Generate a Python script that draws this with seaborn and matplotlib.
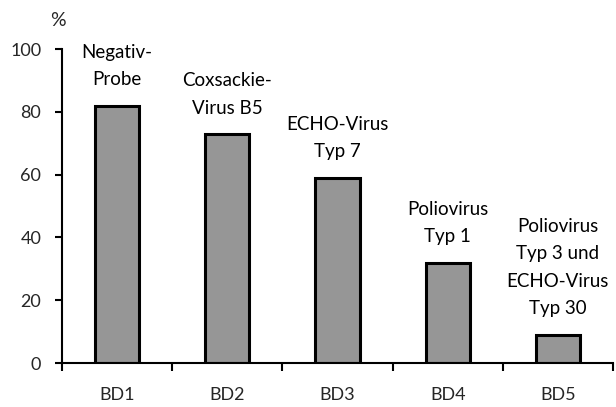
import matplotlib
matplotlib.use("Agg")
import matplotlib.pyplot as plt
import seaborn as sns

categories = ["BD1", "BD2", "BD3", "BD4", "BD5"]
values = [82, 73, 59, 32, 9]
bar_labels = [
    "Negativ-\nProbe",
    "Coxsackie-\nVirus B5",
    "ECHO-Virus\nTyp 7",
    "Poliovirus\nTyp 1",
    "Poliovirus\nTyp 3 und\nECHO-Virus\nTyp 30",
]
yticks = [0, 20, 40, 60, 80, 100]

sns.set_style("white")
plt.rcParams["font.family"] = ["Lato", "DejaVu Sans"]

fig = plt.figure(figsize=(6.16, 4.07), dpi=100)
ax = fig.add_axes([62 / 616, 1 - 363 / 407, (613 - 62) / 616, (363 - 49) / 407])

sns.barplot(x=categories, y=values, color="#969696", saturation=1,
            edgecolor="black", linewidth=2.2, width=0.4, ax=ax)

for i, (v, lab) in enumerate(zip(values, bar_labels)):
    ax.text(i, v + 5.5, lab, ha="center", va="bottom", fontsize=13.5,
            linespacing=1.75, color="black")

ax.set_xlim(-0.5, 4.5)
ax.set_ylim(0, 100)
ax.set_yticks(yticks)
ax.set_yticklabels([str(t) for t in yticks], fontsize=13)
ax.set_xticks(range(len(categories)))
ax.set_xticklabels(categories, fontsize=13)
ax.set_xticks([i - 0.5 for i in range(len(categories) + 1)], minor=True)
ax.tick_params(axis="x", which="major", length=0, pad=17)
ax.tick_params(axis="x", which="minor", length=6, width=1.5, direction="out", color="black", bottom=True)
ax.tick_params(axis="y", length=5, width=1.5, direction="out", color="black", left=True, pad=10)
ax.set_xlabel("")
ax.set_ylabel("")

for side in ["top", "right"]:
    ax.spines[side].set_visible(False)
for side in ["left", "bottom"]:
    ax.spines[side].set_color("black")
    ax.spines[side].set_linewidth(1.5)

fig.text(58 / 616, 1 - 20 / 407, "%", ha="center", va="center", fontsize=14)

fig.savefig("out.png", dpi=100)
